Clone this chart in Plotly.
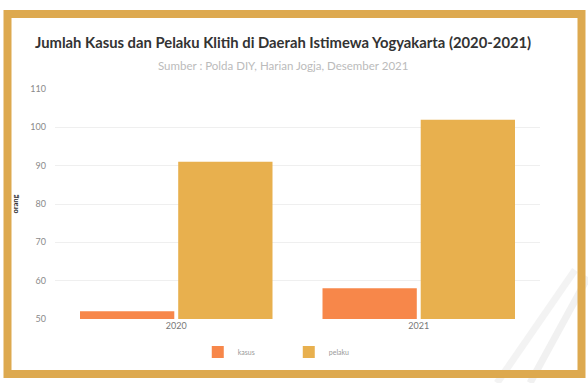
import plotly.graph_objects as go

years = ["2020", "2021"]
kasus = [52, 58]
pelaku = [91, 102]
y_ticks = [50, 60, 70, 80, 90, 100, 110]

title_text = "Jumlah Kasus dan Pelaku Klitih di Daerah Istimewa Yogyakarta (2020-2021)"
subtitle_text = "Sumber : Polda DIY, Harian Jogja, Desember 2021"

fig = go.Figure()
fig.add_trace(go.Bar(name="kasus", x=years, y=kasus, marker=dict(color="#F7874A", line_width=0),
                     base=0))
fig.add_trace(go.Bar(name="pelaku", x=years, y=pelaku, marker=dict(color="#E8B04E", line_width=0),
                     base=0))

fig.update_layout(
    width=588, height=383,
    margin=dict(l=55, r=48, t=89, b=64),
    paper_bgcolor="white", plot_bgcolor="white",
    barmode="group", bargap=0.19, bargroupgap=0.04,
    font=dict(family="Lato", color="#888888"),
    showlegend=True,
    legend=dict(orientation="h", x=0.482, xanchor="center", y=-0.143, yanchor="middle",
                font=dict(size=7, color="#999999"), entrywidth=46, itemwidth=30,
                bgcolor="rgba(0,0,0,0)"),
    xaxis=dict(type="category", showgrid=False, showline=False, ticks="",
               tickfont=dict(size=9, color="#777777")),
    yaxis=dict(range=[50, 110], tickvals=y_ticks, showgrid=True, gridcolor="#EFEFEF",
               zeroline=False, showline=False, ticks="", ticklabelstandoff=8,
               tickfont=dict(size=9, color="#8a8a8a"),
               title=dict(text="<b>orang</b>", font=dict(size=7.5, color="#333333"), standoff=10)),
    annotations=[
        dict(text=title_text, xref="paper", yref="paper", x=(283 - 55) / 485, y=(319 - 42) / 230,
             xanchor="center", yanchor="middle", showarrow=False,
             font=dict(family="Lato", size=14.8, color="#333333", weight=700)),
        dict(text=subtitle_text, xref="paper", yref="paper", x=(283 - 55) / 485, y=(319 - 66) / 230,
             xanchor="center", yanchor="middle", showarrow=False,
             font=dict(family="Lato", size=11.5, color="#BBBBBB")),
    ],
    shapes=[
        dict(type="line", xref="paper", yref="paper",
             x0=(497 - 55) / 485, y0=(319 - 383) / 230, x1=(575 - 55) / 485, y1=(319 - 270) / 230,
             line=dict(color="rgba(190,190,190,0.18)", width=7), layer="below"),
        dict(type="line", xref="paper", yref="paper",
             x0=(530 - 55) / 485, y0=(319 - 383) / 230, x1=(588 - 55) / 485, y1=(319 - 277) / 230,
             line=dict(color="rgba(190,190,190,0.22)", width=7), layer="below"),
        dict(type="rect", xref="paper", yref="paper",
             x0=(7.5 - 55) / 485, x1=(581.5 - 55) / 485,
             y0=(319 - 374) / 230, y1=(319 - 14) / 230,
             line=dict(color="#DDA94F", width=8), fillcolor="rgba(0,0,0,0)", layer="above"),
    ],
)

fig.write_html("out.html")
